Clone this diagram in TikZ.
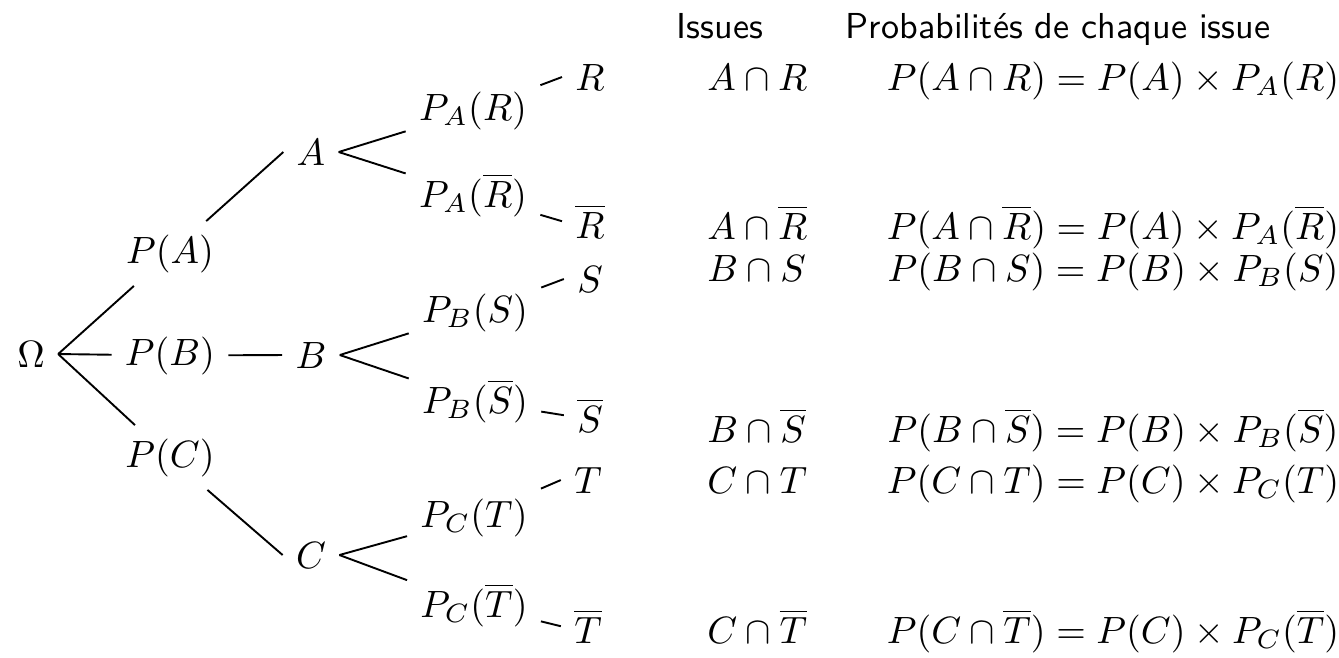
\documentclass[tikz,border=0pt]{standalone}
\usepackage{amsmath}
\usepackage{amssymb}
\usepackage{tikz}
\usetikzlibrary{positioning}
\tikzset{
  % --- nodes
  ev/.style    = {anchor=base, inner sep=3.33pt},
  prob/.style  = {ev},
  leaf/.style  = {ev},
  issue/.style = {anchor=base west, inner sep=3.33pt},
  form/.style  = {anchor=base, inner sep=3.33pt},
  head/.style  = {anchor=base, font=\sffamily\fontsize{9.5}{11}\selectfont},
  % --- edges
  br/.style    = {line width=0.5pt, draw=black},
}

\begin{document}
\begin{tikzpicture}[x=0.263pt, y=-0.263pt]
  \useasboundingbox (0,0) rectangle (1339,657);
  % --- first level
  \node[ev]   (om) at (31,367)  {$\Omega$};
  \node[prob] (pa) at (170,263) {$P(A)$};
  \node[prob] (pb) at (170,365) {$P(B)$};
  \node[prob] (pc) at (170,467) {$P(C)$};
  \node[ev]   (a)  at (311,165) {$A$};
  \node[ev]   (b)  at (311,368) {$B$};
  \node[ev]   (c)  at (311,568) {$C$};
  % --- second level
  \node[prob] (par)  at (473,120) {$P_A(R)$};
  \node[prob] (parb) at (473,207) {$P_A(\overline{R})$};
  \node[prob] (pbs)  at (475,322) {$P_B(S)$};
  \node[prob] (pbsb) at (475,413) {$P_B(\overline{S})$};
  \node[prob] (pct)  at (474,527) {$P_C(T)$};
  \node[prob] (pctb) at (474,617) {$P_C(\overline{T})$};
  \node[leaf] (r)  at (590,90)  {$R$};
  \node[leaf] (rb) at (590,238) {$\overline{R}$};
  \node[leaf] (s)  at (590,292) {$S$};
  \node[leaf] (sb) at (590,432) {$\overline{S}$};
  \node[leaf] (t)  at (588,493) {$T$};
  \node[leaf] (tb) at (588,643) {$\overline{T}$};
  % --- columns
  \node[head] (hi) at (720,38)  {Issues};
  \node[head] (hp) at (1058,38) {Probabilités de chaque issue};
  \node[issue] (i1) at (694,90)  {$A\cap R$};
  \node[issue] (i2) at (694,239) {$A\cap\overline{R}$};
  \node[issue] (i3) at (694,281) {$B\cap S$};
  \node[issue] (i4) at (694,442) {$B\cap\overline{S}$};
  \node[issue] (i5) at (694,493) {$C\cap T$};
  \node[issue] (i6) at (694,643) {$C\cap\overline{T}$};
  \node[form] (f1) at (1113,90)  {$P(A\cap R)=P(A)\times P_A(R)$};
  \node[form] (f2) at (1113,239) {$P(A\cap\overline{R})=P(A)\times P_A(\overline{R})$};
  \node[form] (f3) at (1113,281) {$P(B\cap S)=P(B)\times P_B(S)$};
  \node[form] (f4) at (1113,442) {$P(B\cap\overline{S})=P(B)\times P_B(\overline{S})$};
  \node[form] (f5) at (1113,493) {$P(C\cap T)=P(C)\times P_C(T)$};
  \node[form] (f6) at (1113,643) {$P(C\cap\overline{T})=P(C)\times P_C(\overline{T})$};
  % --- branches
  \draw[br] (om.east) -- (pa); \draw[br] (pa) -- (a.west);
  \draw[br] (om.east) -- (pb); \draw[br] (pb) -- (b.west);
  \draw[br] (om.east) -- (pc); \draw[br] (pc) -- (c.west);
  \draw[br] (a.east) -- (par);  \draw[br] (par) -- (r.west);
  \draw[br] (a.east) -- (parb); \draw[br] (parb) -- (rb.west);
  \draw[br] (b.east) -- (pbs);  \draw[br] (pbs) -- (s.west);
  \draw[br] (b.east) -- (pbsb); \draw[br] (pbsb) -- (sb.west);
  \draw[br] (c.east) -- (pct);  \draw[br] (pct) -- (t.west);
  \draw[br] (c.east) -- (pctb); \draw[br] (pctb) -- (tb.west);
\end{tikzpicture}
\end{document}
